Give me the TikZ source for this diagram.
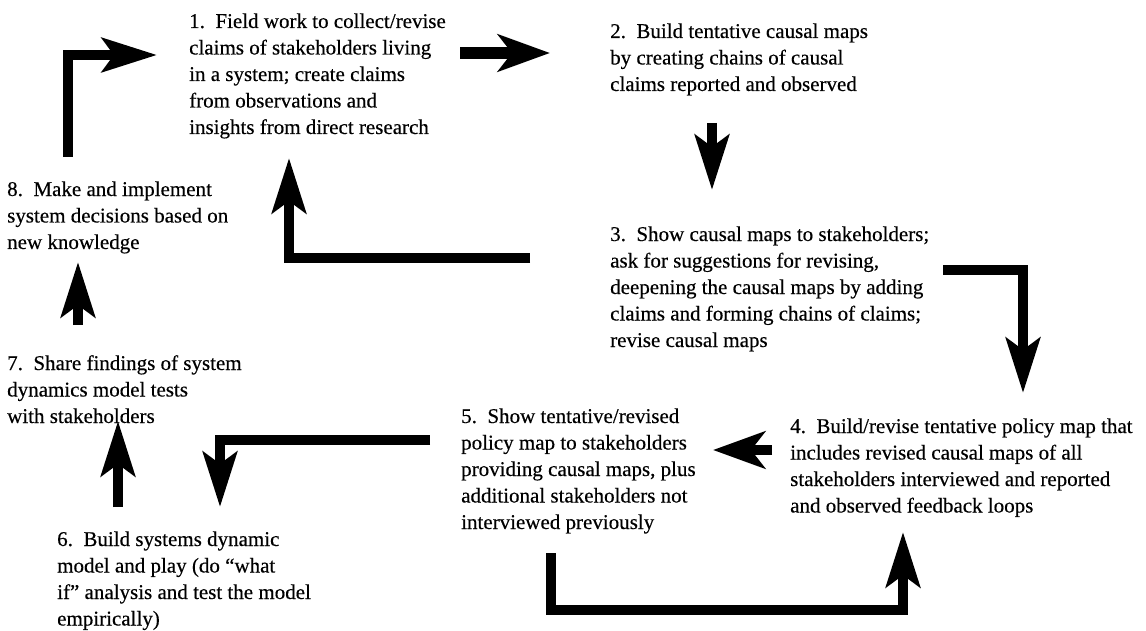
\documentclass[tikz,border=0pt]{standalone}
\usepackage{fontspec}
\setmainfont{Liberation Serif}
\newfontfamily\stepfont{Liberation Serif}[Ligatures=TeX,FakeBold=0.35]
\usetikzlibrary{arrows.meta}
\begin{document}
\begin{tikzpicture}[x=1pt,y=-1pt,
  % multi-line nodes are placed by the baseline of their last line
  stepnote/.style={anchor=base west, inner sep=0pt, align=left,
    font=\stepfont\fontsize{21}{26.5}\selectfont\frenchspacing},
  flow/.style={line width=10pt, line join=miter,
    -{Stealth[length=55pt,width=34pt,inset=12pt]}},
  flowwide/.style={flow, -{Stealth[length=52pt,width=37pt,inset=14pt]}},
]
% canvas
\path[fill=white] (0,0) rectangle (1146,631);
\useasboundingbox (0,0) rectangle (1146,631);

% the eight steps of the cycle
\node[stepnote] (s1) at (189,134) {1.\ \ Field work to collect/revise\\claims of stakeholders living\\in a system; create claims\\from observations and\\insights from direct research};
\node[stepnote] (s2) at (610,91) {2.\ \ Build tentative causal maps\\by creating chains of causal\\claims reported and observed};
\node[stepnote] (s3) at (610,347) {3.\ \ Show causal maps to stakeholders;\\ask for suggestions for revising,\\deepening the causal maps by adding\\claims and forming chains of claims;\\revise causal maps};
\node[stepnote] (s4) at (790,512.5) {4.\ \ Build/revise tentative policy map that\\includes revised causal maps of all\\stakeholders interviewed and reported\\and observed feedback loops};
\node[stepnote] (s5) at (461,529) {5.\ \ Show tentative/revised\\policy map to stakeholders\\providing causal maps, plus\\additional stakeholders not\\interviewed previously};
\node[stepnote] (s6) at (57,625.5) {6.\ \ Build systems dynamic\\model and play (do “what\\if” analysis and test the model\\empirically)};
\node[stepnote] (s7) at (7,423) {7.\ \ Share findings of system\\dynamics model tests\\with stakeholders};
\node[stepnote] (s8) at (7,249) {8.\ \ Make and implement\\system decisions based on\\new knowledge};

% arrow end points and bends
\coordinate (a81s) at (68,157);  \coordinate (a81b) at (68,55);   \coordinate (a81e) at (157,55);
\coordinate (a12s) at (460,53);  \coordinate (a12e) at (550,53);
\coordinate (a23s) at (712,123); \coordinate (a23e) at (712,190);
\coordinate (a31s) at (530,258); \coordinate (a31b) at (289,258); \coordinate (a31e) at (289,158);
\coordinate (a34s) at (943,270); \coordinate (a34b) at (1023,270); \coordinate (a34e) at (1023,393);
\coordinate (a45s) at (772,450); \coordinate (a45e) at (713,450);
\coordinate (a56s) at (430,440); \coordinate (a56b) at (220,440); \coordinate (a56e) at (220,507);
\coordinate (a54s) at (551,553); \coordinate (a54b) at (551,610); \coordinate (a54c) at (903,610); \coordinate (a54e) at (903,532);
\coordinate (a67s) at (118,507); \coordinate (a67e) at (118,421);
\coordinate (a78s) at (78,325);  \coordinate (a78e) at (78,262);

% connectors
\draw[flow] (a81s) -- (a81b) -- (a81e);
\draw[flowwide, line width=12pt] (a12s) -- (a12e);
\draw[flow] (a23s) -- (a23e);
\draw[flow] (a31s) -- (a31b) -- (a31e);
\draw[flow] (a34s) -- (a34b) -- (a34e);
\draw[flowwide] (a45s) -- (a45e);
\draw[flow] (a56s) -- (a56b) -- (a56e);
\draw[flow] (a54s) -- (a54b) -- (a54c) -- (a54e);
\draw[flow] (a67s) -- (a67e);
\draw[flow] (a78s) -- (a78e);
\end{tikzpicture}
\end{document}
